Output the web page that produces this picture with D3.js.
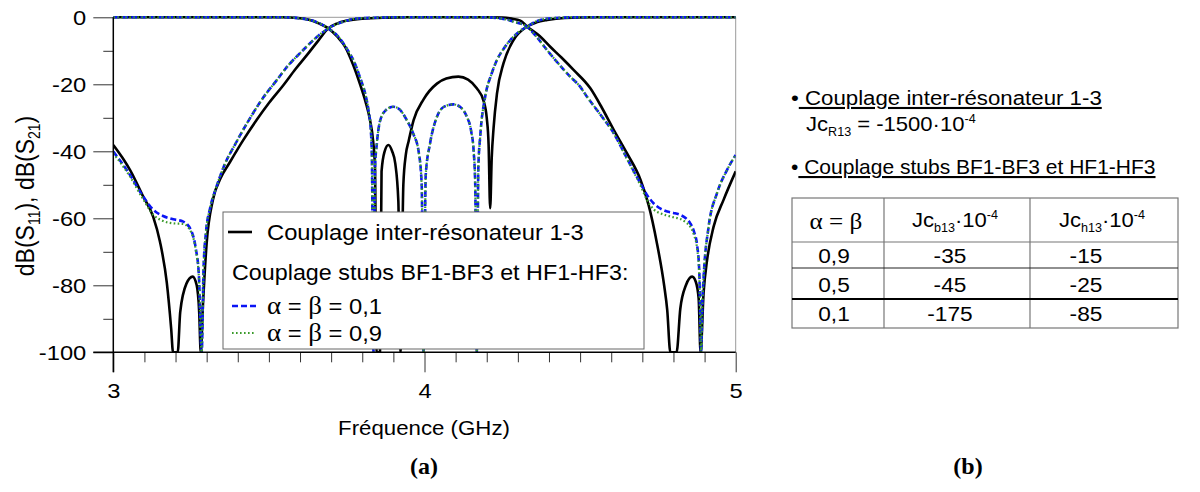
<!DOCTYPE html>
<html>
<head>
<meta charset="utf-8">
<script src="https://cdn.jsdelivr.net/npm/d3@7"></script>
<style>
  html, body { margin: 0; padding: 0; background: #fff; }
  svg { display: block; }
</style>
</head>
<body>
<div id="chart"></div>
<script>
// ---------------- DATA ----------------
// Axis ticks
const xMajor = [3, 4, 5];
const yMajor = [0, -20, -40, -60, -80, -100];
const yMinor = [-10, -30, -50, -70, -90];

// Black solid: Couplage inter-résonateur 1-3   [GHz, dB]
const s21Resonator = [[3.000,-38.1],[3.030,-42],[3.054,-45.6],[3.096,-53.5],[3.128,-59.5],[3.150,-67],[3.172,-79.3],[3.186,-93],[3.192,-100],[3.207,-100],[3.215,-88],[3.235,-79.5],[3.255,-77.4],[3.268,-80],[3.276,-88],[3.281,-100],[3.288,-86],[3.300,-67.4],[3.320,-54.5],[3.345,-48],[3.375,-43.2],[3.418,-36.6],[3.461,-30.6],[3.500,-25.6],[3.547,-20.2],[3.585,-15.5],[3.622,-11.3],[3.660,-6.8],[3.691,-3.3],[3.720,-1.8],[3.750,-1.0],[3.800,-0.4],[3.880,-0.1],[3.950,0],[4.200,0],[4.250,-0.1],[4.280,-0.4],[4.308,-1.0],[4.330,-2.8],[4.370,-5.6],[4.404,-8.8],[4.440,-12],[4.479,-15.7],[4.533,-21.2],[4.570,-27],[4.608,-33.6],[4.650,-40.5],[4.694,-48.5],[4.720,-56],[4.747,-67.5],[4.770,-80],[4.780,-87.4],[4.790,-100],[4.810,-100],[4.822,-87],[4.840,-80],[4.860,-77.4],[4.872,-79],[4.881,-84],[4.887,-100],[4.897,-82],[4.908,-72.5],[4.929,-62.5],[4.961,-54.5],[5.000,-46]];
const s11Resonator = [[3.000,0],[3.540,0],[3.600,-0.3],[3.632,-0.8],[3.660,-1.8],[3.691,-3.3],[3.720,-5.8],[3.745,-8.8],[3.770,-14],[3.793,-20],[3.810,-25],[3.825,-30.7],[3.835,-37],[3.841,-45],[3.846,-100],[3.857,-100],[3.862,-46],[3.872,-40],[3.884,-38.1],[3.896,-40],[3.906,-43.6],[3.916,-55],[3.923,-100],[3.932,-50],[3.940,-41],[3.949,-37],[3.965,-30.7],[3.997,-24.5],[4.040,-19.8],[4.070,-18.3],[4.109,-17.7],[4.140,-18.6],[4.168,-21.2],[4.190,-25],[4.200,-30],[4.206,-38],[4.211,-57],[4.216,-42],[4.222,-33],[4.233,-22.7],[4.254,-13.7],[4.286,-6.8],[4.329,-2.8],[4.360,-1.5],[4.394,-0.8],[4.450,-0.2],[4.550,0],[5.000,0]];

// Blue dashed: stubs alpha = beta = 0,1
const s21Stub01 = [[3.000,-40.1],[3.050,-46.5],[3.096,-53.5],[3.129,-57.5],[3.160,-59.3],[3.193,-60.3],[3.225,-61],[3.252,-64],[3.265,-69],[3.275,-77],[3.284,-100],[3.290,-75],[3.298,-64],[3.311,-57],[3.330,-51],[3.354,-44.8],[3.397,-37],[3.440,-30],[3.480,-24.2],[3.525,-18.8],[3.560,-14.6],[3.600,-10.7],[3.654,-5.9],[3.691,-3.3],[3.740,-1.3],[3.780,-0.4],[3.850,-0.1],[3.900,0],[4.200,0],[4.233,-0.2],[4.260,-0.6],[4.286,-1.3],[4.329,-2.8],[4.360,-5.8],[4.394,-9.8],[4.430,-13.8],[4.468,-17.7],[4.500,-20.7],[4.522,-23.7],[4.565,-29],[4.608,-34.6],[4.650,-42],[4.694,-49.6],[4.715,-53],[4.736,-55.5],[4.760,-57.2],[4.780,-58],[4.800,-58.4],[4.822,-59],[4.840,-60],[4.854,-61.5],[4.866,-64],[4.876,-68],[4.883,-76],[4.889,-100],[4.893,-85],[4.897,-77.4],[4.913,-62.5],[4.940,-52.5],[4.972,-45.6],[5.000,-41.1]];
const s11Stub01 = [[3.000,0],[3.550,0],[3.620,-0.6],[3.660,-1.7],[3.691,-3.3],[3.720,-5.5],[3.750,-9.3],[3.775,-13.5],[3.793,-18],[3.810,-23],[3.820,-27.7],[3.827,-33],[3.831,-42],[3.836,-100],[3.841,-45],[3.847,-37.6],[3.857,-31],[3.875,-27.8],[3.900,-26.7],[3.920,-27.5],[3.943,-30.7],[3.965,-35],[3.981,-40],[3.991,-50],[3.997,-100],[4.004,-47],[4.018,-37.6],[4.040,-29.7],[4.065,-26.6],[4.093,-26],[4.115,-26.8],[4.136,-29.7],[4.150,-34],[4.158,-40],[4.163,-50],[4.168,-100],[4.173,-45],[4.179,-35.6],[4.195,-23.7],[4.215,-17],[4.233,-12.7],[4.255,-9.3],[4.276,-6.8],[4.300,-4.6],[4.329,-2.8],[4.372,-0.8],[4.420,-0.2],[4.500,0],[5.000,0]];

// Green dotted: stubs alpha = beta = 0,9
const s21Stub09 = [[3.000,-40.6],[3.050,-47],[3.096,-54.3],[3.129,-59],[3.160,-60.8],[3.193,-61.5],[3.225,-61.7],[3.252,-64.5],[3.265,-69.5],[3.275,-77.5],[3.284,-100],[3.290,-75],[3.298,-64],[3.311,-57],[3.330,-51],[3.354,-44.8],[3.397,-37],[3.440,-30],[3.480,-24.2],[3.525,-18.8],[3.560,-14.6],[3.600,-10.7],[3.654,-5.9],[3.691,-3.3],[3.740,-1.3],[3.780,-0.4],[3.850,-0.1],[3.900,0],[4.200,0],[4.233,-0.2],[4.260,-0.6],[4.286,-1.3],[4.329,-2.8],[4.360,-5.8],[4.394,-9.8],[4.430,-13.8],[4.468,-17.7],[4.500,-20.7],[4.522,-23.7],[4.565,-29],[4.608,-34.6],[4.650,-42.2],[4.694,-50.2],[4.715,-54.5],[4.736,-57.3],[4.760,-58.6],[4.780,-59.2],[4.800,-59.7],[4.822,-60.2],[4.840,-61.2],[4.854,-62.5],[4.866,-65],[4.876,-69],[4.883,-77],[4.889,-100],[4.893,-85],[4.897,-77.4],[4.913,-62.5],[4.940,-52.5],[4.972,-45.6],[5.000,-41.1]];
const s11Stub09 = [[3.000,0],[3.550,0],[3.620,-0.6],[3.660,-1.7],[3.691,-3.3],[3.720,-5.5],[3.750,-9.3],[3.775,-13.5],[3.793,-18],[3.810,-23],[3.820,-27.7],[3.827,-33],[3.831,-42],[3.836,-100],[3.841,-45],[3.847,-37.6],[3.857,-31],[3.875,-27.8],[3.900,-26.7],[3.920,-27.5],[3.943,-30.7],[3.965,-35],[3.981,-40],[3.991,-50],[3.997,-100],[4.004,-47],[4.018,-37.6],[4.040,-29.7],[4.065,-26.6],[4.093,-26],[4.115,-26.8],[4.136,-29.7],[4.150,-34],[4.158,-40],[4.163,-50],[4.168,-100],[4.173,-45],[4.179,-35.6],[4.195,-23.7],[4.215,-17],[4.233,-12.7],[4.255,-9.3],[4.276,-6.8],[4.300,-4.6],[4.329,-2.8],[4.372,-0.8],[4.420,-0.2],[4.500,0],[5.000,0]];

// Table (b)
const tableAlphaBeta = ["0,9", "0,5", "0,1"];
const tableJcb13 = [-35, -45, -175];
const tableJch13 = [-15, -25, -85];
const jcR13 = -1500;

// ---------------- DRAW ----------------
const W = 1200, H = 492;
const SANS = '"Liberation Sans", Arial, sans-serif';
const SERIF = '"Liberation Serif", "Times New Roman", serif';

const svg = d3.select('#chart').append('svg').attr('width', W).attr('height', H);
svg.append('rect').attr('width', W).attr('height', H).attr('fill', '#fff');

const x = d3.scaleLinear().domain([3, 5]).range([113.3, 735.7]);
const y = d3.scaleLinear().domain([-100, 0]).range([352.3, 17.3]);
const [x0, x1] = x.range();
const [yb, yt] = y.range();

function rich(g, px, py, parts, opts = {}) {
  const sx = opts.sx || 1.1;
  const t = g.append('text')
    .attr('transform', `translate(${px},${py}) scale(${sx},1)` + (opts.rotate ? ` rotate(${opts.rotate})` : ''))
    .attr('text-anchor', opts.anchor || 'start')
    .attr('font-size', opts.size || 20)
    .attr('font-family', opts.font || SANS)
    .attr('fill', '#000');
  if (opts.weight) t.attr('font-weight', opts.weight);
  let cur = 0;
  parts.forEach(p => {
    const s = t.append('tspan').text(p.t);
    const sh = p.shift || 0;
    if (sh - cur !== 0) s.attr('dy', sh - cur);
    cur = sh;
    if (p.size) s.attr('font-size', p.size);
    if (p.font) s.attr('font-family', p.font);
    if (p.u) s.attr('text-decoration', 'underline');
  });
  return t;
}

// frame (thin grey top / right)
svg.append('line').attr('x1', x0).attr('x2', x1).attr('y1', yt).attr('y2', yt).attr('stroke', '#9a9a9a').attr('stroke-width', 1);
svg.append('line').attr('x1', x1).attr('x2', x1).attr('y1', yt).attr('y2', yb).attr('stroke', '#9a9a9a').attr('stroke-width', 1);

// axes
const TSX = 1.13;
const gy = svg.append('g').attr('transform', `translate(${x0},0)`)
  .call(d3.axisLeft(y).tickValues(yMajor).tickSize(20).tickPadding(7).tickFormat(d => String(d)));
svg.append('g').attr('transform', `translate(${x0},0)`)
  .call(d3.axisLeft(y).tickValues(yMinor).tickSize(10).tickFormat(''))
  .call(g => g.select('.domain').remove());
const xMinor = d3.range(30, 51).map(v => v / 10).filter(v => !xMajor.includes(v));
const gx = svg.append('g').attr('transform', `translate(0,${yb})`)
  .call(d3.axisBottom(x).tickValues(xMajor).tickSize(20).tickPadding(11).tickFormat(d => String(d)));
svg.append('g').attr('transform', `translate(0,${yb})`)
  .call(d3.axisBottom(x).tickValues(xMinor).tickSize(10).tickFormat(''))
  .call(g => g.select('.domain').remove());

svg.selectAll('.tick line').attr('stroke', '#333').attr('stroke-width', 1);
gy.select('.domain').remove();
gx.select('.domain').remove();
gy.selectAll('text').attr('font-size', 21).attr('font-family', SANS).attr('fill', '#000')
  .attr('x', -27 / TSX).attr('transform', `scale(${TSX},1)`);
gx.selectAll('text').attr('font-size', 21).attr('font-family', SANS).attr('fill', '#000')
  .attr('transform', `scale(${TSX},1)`);

// curves
svg.append('clipPath').attr('id', 'plotclip').append('rect')
  .attr('x', x0).attr('y', yt - 5).attr('width', x1 - x0).attr('height', yb - yt + 5);
const line = d3.line().x(d => x(d[0])).y(d => y(d[1])).curve(d3.curveMonotoneX);
const gc = svg.append('g').attr('clip-path', 'url(#plotclip)');
const styles = {
  black: { stroke: '#000', w: 2.6, dash: null },
  blue: { stroke: '#0a14f5', w: 2.6, dash: '6,3' },
  green: { stroke: '#3a9a2a', w: 2.2, dash: '1.6,2.4' }
};
[[s21Resonator, 'black'], [s11Resonator, 'black'], [s21Stub01, 'blue'], [s11Stub01, 'blue'], [s21Stub09, 'green'], [s11Stub09, 'green']]
  .forEach(([data, k]) => {
    const st = styles[k];
    gc.append('path').attr('d', line(data)).attr('fill', 'none')
      .attr('stroke', st.stroke).attr('stroke-width', st.w)
      .attr('stroke-dasharray', st.dash);
  });

// axis lines (black)
svg.append('line').attr('x1', x0).attr('x2', x0).attr('y1', yt).attr('y2', yb + 20).attr('stroke', '#000').attr('stroke-width', 1.5);
svg.append('line').attr('x1', x0 - 20).attr('x2', x1).attr('y1', yb).attr('y2', yb).attr('stroke', '#000').attr('stroke-width', 1.5);

// axis titles
rich(svg, 424, 435, [{ t: 'Fréquence (GHz)' }], { anchor: 'middle', size: 21, sx: 1.06 });
rich(svg, 34, 196, [
  { t: 'dB(S' }, { t: '11', size: 14, shift: 5 }, { t: '), dB(S', shift: 0 }, { t: '21', size: 14, shift: 5 }, { t: ')', shift: 0 }
], { anchor: 'middle', size: 23, rotate: -90, sx: 1.13 });

// legend
const lg = svg.append('g');
lg.append('rect').attr('x', 223).attr('y', 212).attr('width', 421).attr('height', 137)
  .attr('fill', '#fff').attr('stroke', '#666').attr('stroke-width', 1);
const legendRows = [
  { key: 'black', y: 232, parts: [{ t: 'Couplage inter-résonateur 1-3' }] },
  { key: null, y: 272, parts: [{ t: 'Couplage stubs BF1-BF3 et HF1-HF3:' }] },
  { key: 'blue', y: 306, parts: [{ t: 'α', font: SERIF, size: 25 }, { t: ' = ' }, { t: 'β', font: SERIF, size: 25 }, { t: ' = 0,1' }] },
  { key: 'green', y: 333, parts: [{ t: 'α', font: SERIF, size: 25 }, { t: ' = ' }, { t: 'β', font: SERIF, size: 25 }, { t: ' = 0,9' }] }
];
legendRows.forEach(r => {
  if (r.key) {
    const st = styles[r.key];
    lg.append('line').attr('x1', r.key === 'black' ? 228 : 232).attr('x2', r.key === 'black' ? 252 : 256)
      .attr('y1', r.y).attr('y2', r.y).attr('stroke', st.stroke).attr('stroke-width', st.w)
      .attr('stroke-dasharray', st.dash);
    rich(lg, 267, r.y + 8, r.parts, { size: 22, sx: 1.08 });
  } else {
    rich(lg, 232, r.y + 8, r.parts, { size: 22, sx: 1.06 });
  }
});

// panel labels
rich(svg, 424, 474, [{ t: '(a)' }], { anchor: 'middle', size: 24, font: SERIF, weight: 'bold', sx: 1 });
rich(svg, 968, 474, [{ t: '(b)' }], { anchor: 'middle', size: 24, font: SERIF, weight: 'bold', sx: 1 });

// right panel text
const rp = svg.append('g');
rich(rp, 791, 105, [{ t: '•' }, { t: ' Couplage inter-résonateur 1-3', u: true }], { size: 21, sx: 1.06 });
rich(rp, 806, 131, [{ t: 'Jc' }, { t: 'R13', size: 12, shift: 5 }, { t: ' = ' + String(jcR13) + '·10', shift: 0 }, { t: '-4', size: 12, shift: -8 }], { size: 21, sx: 1.05 });
rich(rp, 791, 174, [{ t: '•' }, { t: ' Couplage stubs BF1-BF3 et HF1-HF3', u: true }], { size: 21, sx: 1.0 });

// table
const tb = svg.append('g');
const colX = [792, 884, 1030, 1178];
const rowY = [198, 242, 268, 299, 328];
tb.append('rect').attr('x', colX[0]).attr('y', rowY[0]).attr('width', colX[3] - colX[0]).attr('height', rowY[4] - rowY[0])
  .attr('fill', 'none').attr('stroke', '#777').attr('stroke-width', 1.2);
[colX[1], colX[2]].forEach(cx => tb.append('line').attr('x1', cx).attr('x2', cx).attr('y1', rowY[0]).attr('y2', rowY[4]).attr('stroke', '#777').attr('stroke-width', 1.2));
tb.append('line').attr('x1', colX[0]).attr('x2', colX[3]).attr('y1', rowY[1]).attr('y2', rowY[1]).attr('stroke', '#777').attr('stroke-width', 1.2);
tb.append('line').attr('x1', colX[0]).attr('x2', colX[3]).attr('y1', rowY[2]).attr('y2', rowY[2]).attr('stroke', '#222').attr('stroke-width', 1.2);
tb.append('line').attr('x1', colX[0]).attr('x2', colX[3]).attr('y1', rowY[3]).attr('y2', rowY[3]).attr('stroke', '#000').attr('stroke-width', 2);

rich(tb, 836, 229, [{ t: 'α = β' }], { anchor: 'middle', size: 24, font: SERIF, sx: 1.05 });
rich(tb, 955, 227, [{ t: 'Jc' }, { t: 'b13', size: 12, shift: 5 }, { t: '·10', shift: 0 }, { t: '-4', size: 12, shift: -8 }], { anchor: 'middle', size: 21, sx: 1.05 });
rich(tb, 1102, 227, [{ t: 'Jc' }, { t: 'h13', size: 12, shift: 5 }, { t: '·10', shift: 0 }, { t: '-4', size: 12, shift: -8 }], { anchor: 'middle', size: 21, sx: 1.05 });
const rowBase = [263, 292, 321];
tableAlphaBeta.forEach((v, i) => {
  rich(tb, 834, rowBase[i], [{ t: v }], { anchor: 'middle', size: 21, sx: 1.08 });
  rich(tb, 950, rowBase[i], [{ t: String(tableJcb13[i]) }], { anchor: 'middle', size: 21, sx: 1.08 });
  rich(tb, 1086, rowBase[i], [{ t: String(tableJch13[i]) }], { anchor: 'middle', size: 21, sx: 1.08 });
});
</script>
</body>
</html>
